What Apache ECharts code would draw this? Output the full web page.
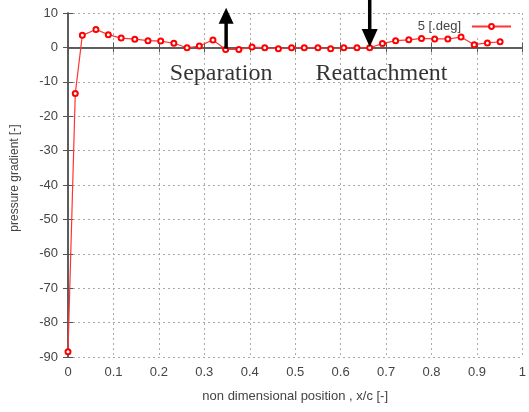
<!DOCTYPE html>
<html>
<head>
<meta charset="utf-8">
<script src="https://cdn.jsdelivr.net/npm/echarts@6/dist/echarts.min.js"></script>
<style>html,body{margin:0;padding:0;background:#fff;}#c{width:529px;height:412px;}</style>
</head>
<body>
<div id="c"></div>
<script>
// x/c positions and pressure gradient values
const xPos = [0, 0.016, 0.0315, 0.0615, 0.0887, 0.117, 0.147, 0.176, 0.204, 0.233, 0.262, 0.289, 0.319, 0.347, 0.376, 0.405, 0.433, 0.463, 0.492, 0.520, 0.550, 0.578, 0.607, 0.636, 0.664, 0.692, 0.721, 0.750, 0.778, 0.807, 0.836, 0.865, 0.894, 0.923, 0.951];
const gradient = [-88.5, -13.4, 3.5, 5.2, 3.7, 2.7, 2.4, 1.95, 1.85, 1.2, -0.1, 0.4, 2.15, -0.6, -0.6, 0.1, -0.1, -0.4, -0.1, -0.1, -0.1, -0.4, -0.1, -0.1, -0.1, 1.1, 1.95, 2.2, 2.6, 2.45, 2.45, 3.0, 0.8, 1.3, 1.65];
const seriesName = '5 [.deg]';
const xTicks = {min: 0, max: 1, interval: 0.1};
const yTicks = {min: -90, max: 10, interval: 10};
// annotations (data coordinates)
const sepArrow = [[0.348, -0.4], [0.348, 9.2]];
const reaArrow = [[0.664, 13.9], [0.664, 2.7]];
const annotations = [[0.337, -7.6, 'Separation'], [0.690, -7.6, 'Reattachment']];

const chart = echarts.init(document.getElementById('c'), null, {renderer: 'canvas'});
const labelColor = '#444';
const axisColor = '#555';
const gridLine = {show: true, lineStyle: {color: '#aaa', type: [2, 3], width: 1}};
const arrowLine = (pts, rot, size) => ({
  type: 'line', silent: true, clip: false, z: 5,
  data: [{value: pts[0], symbol: 'none'}, {value: pts[1], symbol: 'triangle', symbolSize: size, symbolRotate: rot}],
  lineStyle: {color: '#000', width: 3.5},
  itemStyle: {color: '#000'},
  animation: false
});
chart.setOption({
  animation: false,
  grid: {left: 68, right: 1, top: 13, bottom: 55},
  legend: {
    data: [seriesName], right: 14, top: 17, itemWidth: 39, itemHeight: 6, align: 'right',
    backgroundColor: '#fff', padding: [3, 3, 3, 6],
    textStyle: {fontFamily: 'Liberation Sans', fontSize: 13, color: labelColor, padding: [0, 6, 0, 0]}
  },
  xAxis: [{
    type: 'value', min: xTicks.min, max: xTicks.max, interval: xTicks.interval,
    name: 'non dimensional position , x/c [-]', nameLocation: 'middle', nameGap: 33,
    nameTextStyle: {fontFamily: 'Liberation Sans', fontSize: 13, color: labelColor},
    axisLine: {show: true, lineStyle: {color: axisColor, width: 1.5}},
    axisTick: {show: true, inside: true, length: 5, lineStyle: {color: axisColor}},
    axisLabel: {fontFamily: 'Liberation Sans', fontSize: 13, color: labelColor, margin: 9},
    splitLine: gridLine
  }, {
    type: 'value', position: 'top', min: xTicks.min, max: xTicks.max, interval: xTicks.interval,
    axisLine: {show: true, lineStyle: {color: axisColor, width: 1.5}},
    axisTick: {show: true, inside: true, length: 5, lineStyle: {color: axisColor}},
    axisLabel: {show: false}, splitLine: {show: false}
  }],
  yAxis: [{
    type: 'value', min: yTicks.min, max: yTicks.max, interval: yTicks.interval,
    name: 'pressure gradient [-]', nameLocation: 'middle', nameGap: 47,
    nameTextStyle: {fontFamily: 'Liberation Sans', fontSize: 12, color: labelColor, padding: [0, 0, 0, 14]},
    axisLine: {show: true, lineStyle: {color: axisColor, width: 1.5}},
    axisTick: {show: true, inside: true, length: 5, lineStyle: {color: axisColor}},
    axisLabel: {fontFamily: 'Liberation Sans', fontSize: 13, color: labelColor, margin: 10},
    splitLine: gridLine
  }, {
    type: 'value', position: 'right', min: yTicks.min, max: yTicks.max, interval: yTicks.interval,
    axisLine: {show: true, lineStyle: {color: axisColor, width: 1.5}},
    axisTick: {show: true, inside: true, length: 5, lineStyle: {color: axisColor}},
    axisLabel: {show: false}, splitLine: {show: false}
  }],
  series: [{
    name: seriesName, type: 'line', z: 4,
    data: xPos.map((x, i) => [x, gradient[i]]),
    symbol: 'emptyCircle', symbolSize: 5, showAllSymbol: true,
    lineStyle: {color: '#ff3333', width: 1.2},
    itemStyle: {color: '#ff0000', borderWidth: 1}
  },
  arrowLine(sepArrow, 0, [15, 16]),
  arrowLine(reaArrow, 180, [16, 18]),
  {
    type: 'scatter', silent: true, symbolSize: 0, z: 6,
    data: annotations,
    label: {show: true, position: 'inside', formatter: p => p.value[2],
      fontFamily: 'Liberation Serif', fontSize: 24, color: '#000'}
  }]
});
</script>
</body>
</html>
